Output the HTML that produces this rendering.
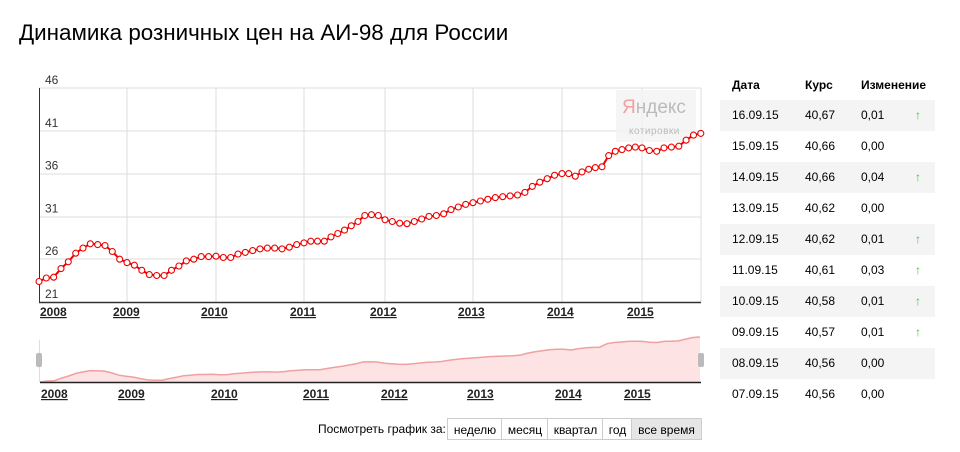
<!DOCTYPE html>
<html><head><meta charset="utf-8"><style>
body{margin:0;width:960px;height:452px;background:#fff;font-family:"Liberation Sans",Arial,sans-serif;position:relative;overflow:hidden}
h1{position:absolute;left:19px;top:20px;margin:0;font-weight:normal;font-size:22.4px;color:#000}
svg{position:absolute;left:0;top:0}
.tbl{position:absolute;left:720px;top:70px;width:215px;font-size:12px;color:#000}
.row{position:relative;height:31px;line-height:31px}
.row.s{background:#f4f4f4}
.row span{position:absolute}
.hd{height:30px;line-height:30px;font-weight:bold}
.btns{position:absolute;top:418px;left:318px;font-size:12px;height:22px;line-height:22px}
.btns .l{position:absolute;left:0;white-space:nowrap}
.b{position:absolute;top:0;height:20px;border:1px solid #ccc;text-align:center;background:#fff}
</style></head><body>
<h1>Динамика розничных цен на АИ-98 для России</h1>
<svg id="s" width="960" height="452"></svg>
<div class="tbl">
<div class="row hd"><span style="left:12px">Дата</span><span style="left:85px">Курс</span><span style="left:141px">Изменение</span></div>
</div>
<div class="btns"><span class="l">Посмотреть график за:</span>
<span class="b" style="left:129px;width:54px">неделю</span>
<span class="b" style="left:183px;width:46px">месяц</span>
<span class="b" style="left:229px;width:55px">квартал</span>
<span class="b" style="left:284px;width:29px">год</span>
<span class="b" style="left:313px;width:69px;background:#e6e6e6">все время</span>
</div>
<script>
var rows=[["16.09.15","40,67","0,01",1],["15.09.15","40,66","0,00",0],["14.09.15","40,66","0,04",1],["13.09.15","40,62","0,00",0],["12.09.15","40,62","0,01",1],["11.09.15","40,61","0,03",1],["10.09.15","40,58","0,01",1],["09.09.15","40,57","0,01",1],["08.09.15","40,56","0,00",0],["07.09.15","40,56","0,00",0]];
var t=document.querySelector('.tbl'),h='';
rows.forEach(function(r,i){h+='<div class="row'+(i%2==0?' s':'')+'"><span style="left:12px">'+r[0]+'</span><span style="left:85px">'+r[1]+'</span><span style="left:141px">'+r[2]+'</span>'+(r[3]?'<span style="left:195px;color:#3c3">&#8593;</span>':'')+'</div>'});
t.innerHTML+=h;
var d=[23.4,23.8,23.9,24.9,25.7,26.7,27.3,27.8,27.7,27.6,26.9,26.0,
25.6,25.3,24.7,24.2,24.1,24.1,24.7,25.2,25.8,26.0,26.3,26.3,
26.35,26.2,26.2,26.6,26.8,27.0,27.2,27.3,27.3,27.2,27.4,27.7,
27.9,28.1,28.1,28.1,28.6,29.0,29.4,29.9,30.4,31.1,31.2,31.1,
30.6,30.4,30.2,30.15,30.4,30.7,31.0,31.1,31.3,31.8,32.1,32.4,
32.6,32.8,33.0,33.2,33.3,33.4,33.5,33.8,34.5,35.0,35.4,35.8,
36.0,36.0,35.7,36.2,36.5,36.7,36.8,38.1,38.6,38.8,39.0,39.1,
39.0,38.7,38.6,39.0,39.1,39.2,39.9,40.5,40.7];
var yr=[39,127,216,304,385,473,562,642];
function X(i){var y=Math.floor(i/12),m=i%12;if(y>=7)return 642+m*7.35;return yr[y]+(yr[y+1]-yr[y])*m/12}
function Y(v){return 302-(v-21)*8.56}
var s='';
[88,131,174,217,259].forEach(function(y){s+='<line x1="39" x2="701" y1="'+y+'" y2="'+y+'" stroke="#ddd"/>'});
yr.slice(1).forEach(function(x){s+='<line x1="'+x+'" x2="'+x+'" y1="88" y2="302" stroke="#ddd"/>'});
s+='<line x1="701" x2="701" y1="88" y2="302" stroke="#ddd"/>';
s+='<line x1="39.5" x2="39.5" y1="88" y2="302" stroke="#333"/><line x1="39" x2="701" y1="302.5" y2="302.5" stroke="#333" stroke-width="1.5"/>';
[46,41,36,31,26,21].forEach(function(v,i){s+='<text x="45" y="'+(84+i*42.8)+'" font-size="12" fill="#333">'+v+'</text>'});
s+='<rect x="616" y="90" width="80" height="52" fill="#f2f2f2" opacity="0.8"/><text x="622" y="113" font-size="19" fill="#bbb"><tspan fill="#f0a0a0">Я</tspan>ндекс</text><text x="629" y="134" font-size="10" fill="#bbb" letter-spacing="0.5">котировки</text>';
var p=d.map(function(v,i){return X(i).toFixed(1)+','+Y(v).toFixed(1)}).join(' ');
s+='<polyline points="'+p+'" fill="none" stroke="#e00" stroke-width="2"/>';
d.forEach(function(v,i){s+='<circle cx="'+X(i).toFixed(1)+'" cy="'+Y(v).toFixed(1)+'" r="3" fill="#fff" stroke="#e00" stroke-width="1.1"/>'});
var lab=[2008,2009,2010,2011,2012,2013,2014,2015],lx=[40,113,201,290,370,458,547,627];
lab.forEach(function(l,i){s+='<text x="'+lx[i]+'" y="316" font-size="12" font-weight="bold" fill="#222" text-decoration="underline">'+l+'</text>'});
var mx=function(i){return 40+i*(660/92)},my=function(v){return 382-(v-23.4)*2.6};
var mp=d.map(function(v,i){return mx(i).toFixed(1)+','+my(v).toFixed(1)}).join(' ');
s+='<polygon points="40,382 '+mp+' 700,382" fill="#fde3e3"/><polyline points="'+mp+'" fill="none" stroke="#f0a0a0" stroke-width="1.5"/>';
s+='<line x1="39.5" x2="39.5" y1="340" y2="382" stroke="#ddd"/><line x1="40" x2="701" y1="382.5" y2="382.5" stroke="#222" stroke-width="1.5"/>';
s+='<rect x="36" y="353" width="6" height="14" rx="2" fill="#bbb"/><rect x="698" y="353" width="6" height="14" rx="2" fill="#bbb"/>';
var ml=[41,118,211,303,381,467,555,624];
lab.forEach(function(l,i){s+='<text x="'+ml[i]+'" y="398" font-size="12" font-weight="bold" fill="#222" text-decoration="underline">'+l+'</text>'});
document.getElementById('s').innerHTML=s;
</script>
</body></html>
